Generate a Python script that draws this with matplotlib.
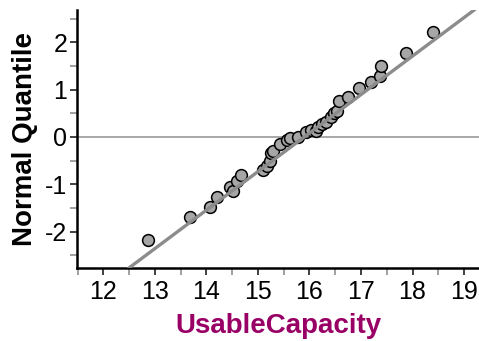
import matplotlib
matplotlib.use("Agg")
import matplotlib.pyplot as plt
from matplotlib.ticker import MultipleLocator

# Usable capacity values and their normal quantiles
capacity = [12.86, 13.68, 14.07, 14.20, 14.45, 14.51, 14.59, 14.68, 15.10, 15.17,
            15.23, 15.25, 15.30, 15.42, 15.56, 15.62, 15.77, 15.94, 16.04, 16.12,
            16.16, 16.25, 16.33, 16.42, 16.47, 16.54, 16.58, 16.74, 16.97, 17.20,
            17.36, 17.38, 17.88, 18.39]
quantile = [-2.18, -1.70, -1.47, -1.27, -1.05, -1.15, -0.92, -0.80, -0.70, -0.62,
            -0.50, -0.33, -0.30, -0.15, -0.07, -0.03, 0.00, 0.10, 0.15, 0.12,
            0.22, 0.28, 0.32, 0.42, 0.50, 0.55, 0.75, 0.85, 1.03, 1.16,
            1.28, 1.50, 1.78, 2.21]

# Fitted normal reference line
fit_mean = 15.9
fit_sd = 1.23

x_ticks = [12, 13, 14, 15, 16, 17, 18, 19]
y_ticks = [-2, -1, 0, 1, 2]

plt.rcParams['font.family'] = ['Liberation Sans', 'DejaVu Sans']
plt.rcParams['axes.unicode_minus'] = False

fig = plt.figure(figsize=(4.79, 3.41), dpi=100)
ax = fig.add_axes([77 / 479, 1 - 267.7 / 341, 1 - 77 / 479, (267.7 - 10) / 341])

ax.set_xlim(11.49, 19.29)
ax.set_ylim(-2.76, 2.68)

ax.axhline(0, color='#999999', lw=1.2, zorder=1)
ax.scatter(capacity, quantile, s=72, facecolor='#a6a6a6', edgecolor='black',
           linewidth=1.1, zorder=2)
ax.axline((fit_mean, 0), slope=1 / fit_sd, color='#8c8c8c', lw=2.4, zorder=3)

for side in ('top', 'right'):
    ax.spines[side].set_visible(False)
ax.spines['left'].set_linewidth(1.8)
ax.spines['bottom'].set_linewidth(1.8)

ax.set_xticks(x_ticks)
ax.set_yticks(y_ticks)
ax.xaxis.set_minor_locator(MultipleLocator(0.5))
ax.yaxis.set_minor_locator(MultipleLocator(0.5))
ax.tick_params(which='major', length=5, width=1.3, color='#333333', labelsize=18)
ax.tick_params(which='minor', length=5, width=1.3, color='#999999')
ax.tick_params(axis='x', pad=4)
ax.tick_params(axis='y', pad=2)

ax.set_xlabel('UsableCapacity', fontsize=20, fontweight='bold', color='#990066', labelpad=6)
ax.set_ylabel('Normal Quantile', fontsize=20, fontweight='bold', color='black', labelpad=5)

fig.savefig('out.png', dpi=100)
